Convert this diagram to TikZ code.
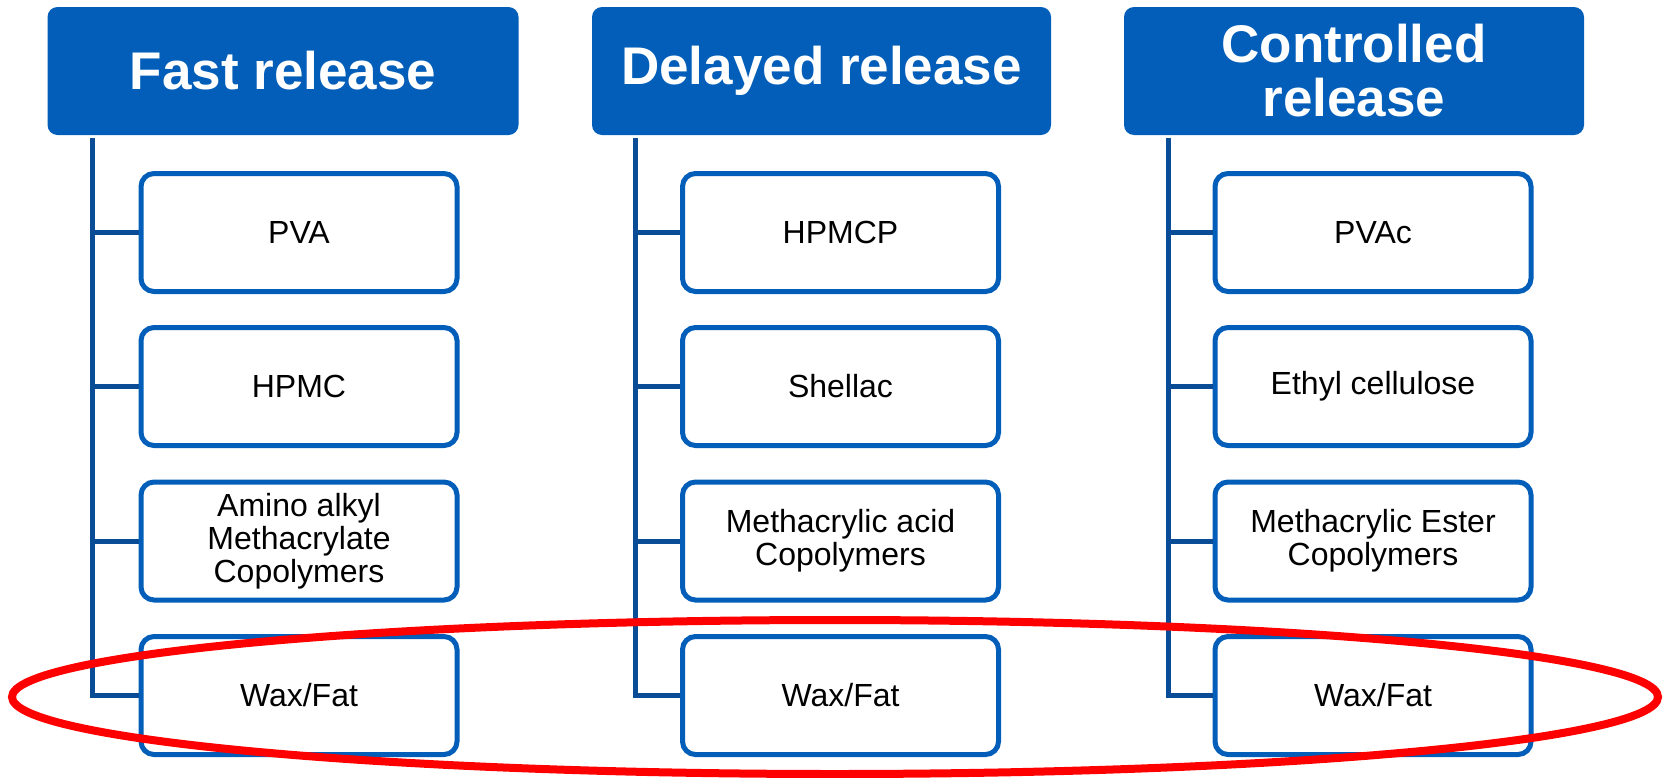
\documentclass[tikz,border=0pt]{standalone}
\usepackage{fontspec}
\setmainfont{Liberation Sans}
\definecolor{hdrblue}{RGB}{2,94,184}
\definecolor{linkblue}{RGB}{10,76,150}
\definecolor{ovalred}{RGB}{255,0,0}
\tikzset{
  hdr/.style={fill=hdrblue, draw=none, rounded corners=10pt, text=white,
    font=\fontsize{53}{54}\selectfont\bfseries, align=center, inner sep=0pt,
    minimum height=128pt},
  item/.style={draw=hdrblue, line width=5pt, fill=white, rounded corners=13pt,
    minimum width=316pt, minimum height=118pt, align=center,
    font=\fontsize{32}{33}\selectfont, inner sep=0pt},
  conn/.style={draw=linkblue, line width=5pt},
  oval/.style={draw=ovalred, line width=8pt}
}
\begin{document}
\begin{tikzpicture}[x=1pt,y=-1pt]
\useasboundingbox (0,0) rectangle (1663,777);
% headers
\node[hdr, minimum width=471pt] (h1) at (283,71) {Fast release};
\node[hdr, minimum width=459pt] (h2) at (821.5,71) {Delayed release};
\node[hdr, minimum width=460pt] (h3) at (1354,71) {Controlled\\release};
% trunk coordinates
\coordinate (t1) at (92,138);
\coordinate (t2) at (635,138);
\coordinate (t3) at (1168,138);
% column 1
\node[item] (a1) at (299,232.5) {PVA};
\node[item] (a2) at (299,386.5) {HPMC};
\node[item] (a3) at (299,541) {Amino alkyl\\Methacrylate\\Copolymers};
\node[item] (a4) at (299,695.5) {Wax/Fat};
% column 2
\node[item] (b1) at (840.5,232.5) {HPMCP};
\node[item] (b2) at (840.5,386.5) {Shellac};
\node[item] (b3) at (840.5,541) {Methacrylic acid\\Copolymers};
\node[item] (b4) at (840.5,695.5) {Wax/Fat};
% column 3
\node[item] (c1) at (1373,232.5) {PVAc};
\node[item] (c2) at (1373,386.5) {Ethyl cellulose};
\node[item] (c3) at (1373,541) {Methacrylic Ester\\Copolymers};
\node[item] (c4) at (1373,695.5) {Wax/Fat};
% connectors
\draw[conn] (t1) |- (a4.west);
\draw[conn] (t2) |- (b4.west);
\draw[conn] (t3) |- (c4.west);
\foreach \n in {1,2,3}{
  \draw[conn] (t1 |- a\n.west) -- (a\n.west);
  \draw[conn] (t2 |- b\n.west) -- (b\n.west);
  \draw[conn] (t3 |- c\n.west) -- (c\n.west);
}
% highlight oval
\draw[oval] (835,697) ellipse [x radius=823pt, y radius=77pt];
\end{tikzpicture}
\end{document}
